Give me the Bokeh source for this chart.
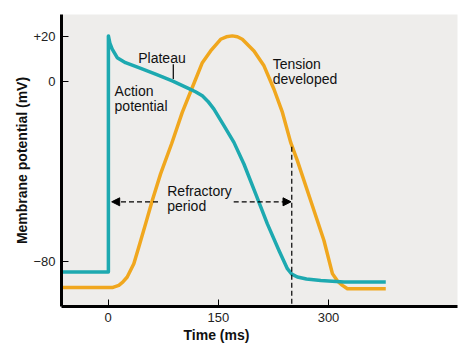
from bokeh.plotting import figure
from bokeh.models import Range1d, FixedTicker, Label, Arrow, NormalHead, Title
from bokeh.embed import file_html
from bokeh.resources import INLINE

# Action potential (ms, mV)
ap_t = [-63.3, 0.5, 0.5, 2.5, 5.7, 12.5, 23.8, 41.9, 64.7, 87.4, 110, 119, 128.3, 136, 144.1,
        157.7, 171.3, 184.9, 200.9, 216.8, 232.6, 244, 250, 257.6, 270, 289.4, 321.1, 377.9]
ap_v = [-84.7, -84.7, 20.2, 17.0, 14.3, 10.5, 8.3, 6.1, 3.2, 0.2, -3.2, -4.6, -6.4, -8.9, -12.3,
        -19.7, -27.1, -36.7, -50, -63.3, -75.1, -83.2, -85.6, -86.9, -87.8, -88.4, -89.1, -89.1]

# Tension developed (ms, drawn on the same vertical scale)
tn_t = [-63.3, 5.7, 14.7, 20, 26.1, 35.1, 41.9, 51.1, 60.2, 71.5, 86.5, 101, 113.7, 128.3, 139.6,
        153.2, 161, 169.1, 176, 182.7, 198.6, 212.2, 225.8, 237.3, 248.5, 257.6, 275.7, 293.8,
        305.3, 312, 318.9, 325.7, 377.9]
tn_v = [-91.6, -91.6, -90.6, -89.2, -86.9, -81, -73.6, -63.3, -52.9, -41.1, -27.7, -13.8, -3.5, 8.3, 13.5,
        18.7, 19.8, 20.2, 19.8, 18.7, 13.5, 6.9, -3.5, -13.8, -27.1, -35.2, -52.9, -70.7,
        -85.4, -88.6, -90.6, -92.1, -92.1]

x_ticks = [0, 150, 300]
y_ticks = [-80, 0, 20]
y_tick_labels = {-80: "\u221280", 0: "0", 20: "+20"}

refractory_start = 5
refractory_end = 250
refractory_y = -53.5

FONT = "Liberation Sans"
TEAL = "#1DA9B0"
ORANGE = "#F0A71E"
TXT = "#111111"

p = figure(frame_width=396, frame_height=292, output_backend="svg", toolbar_location=None,
           x_range=Range1d(-63.3, 475.5), y_range=Range1d(-100, 29.7),
           min_border_left=61, min_border_right=18, min_border_top=14, min_border_bottom=46)
p.background_fill_color = "#EEEDEB"
p.border_fill_color = "white"
p.outline_line_color = None
p.grid.grid_line_color = None

for ax in (p.xaxis[0], p.yaxis[0]):
    ax.axis_line_width = 3
    ax.axis_line_color = "black"
    ax.major_tick_in = 7
    ax.major_tick_out = 0
    ax.major_tick_line_width = 1
    ax.minor_tick_line_color = None
    ax.major_label_text_font = FONT
    ax.major_label_text_font_size = "13px"
    ax.major_label_text_color = "#222222"
    ax.major_label_standoff = 6

p.xaxis.ticker = FixedTicker(ticks=x_ticks)
p.yaxis.ticker = FixedTicker(ticks=y_ticks)
p.yaxis.major_label_overrides = y_tick_labels

p.yaxis.axis_label = "Membrane potential (mV)"
p.yaxis.axis_label_text_font = FONT
p.yaxis.axis_label_text_font_size = "14px"
p.yaxis.axis_label_text_font_style = "bold"
p.yaxis.axis_label_text_color = TXT
p.yaxis.axis_label_standoff = 0

p.add_layout(Title(text="Time (ms)", align="left", offset=122, text_font=FONT,
                   text_font_size="14px", text_font_style="bold", text_color=TXT,
                   standoff=0), "below")

p.line(tn_t, tn_v, line_color=ORANGE, line_width=3.5, line_join="round")
p.line(ap_t, ap_v, line_color=TEAL, line_width=3.5, line_join="round")

# Dashed vertical line at end of refractory period
p.segment(x0=[refractory_end], y0=[-29], x1=[refractory_end], y1=[-100],
          line_color="black", line_width=1.2, line_dash="5 3")

# Refractory arrows
p.add_layout(Arrow(end=NormalHead(size=8, fill_color="black", line_color="black"),
                   x_start=68, y_start=refractory_y, x_end=refractory_start, y_end=refractory_y,
                   line_dash="5 3", line_width=1.2, line_color="black"))
p.add_layout(Arrow(end=NormalHead(size=8, fill_color="black", line_color="black"),
                   x_start=171, y_start=refractory_y, x_end=refractory_end - 1, y_end=refractory_y,
                   line_dash="5 3", line_width=1.2, line_color="black"))

# Plateau leader
p.segment(x0=[88.8], y0=[7.6], x1=[88.8], y1=[1.0], line_color="black", line_width=1.2)

def lab(x, y, t):
    p.add_layout(Label(x=x, y=y, text=t, text_font=FONT, text_font_size="14px",
                       text_color=TXT, text_baseline="alphabetic", text_align="left"))

DY = 2.2
lab(41.1, 8.1 + DY, "Plateau")
lab(8.9, -6.4 + DY, "Action")
lab(8.9, -13.1 + DY, "potential")
lab(224, 5.5 + DY, "Tension")
lab(224, -1.2 + DY, "developed")
lab(80.6, -50.7 + DY, "Refractory")
lab(80.6, -57.7 + DY, "period")

open("out.html", "w").write(file_html(p, INLINE))
